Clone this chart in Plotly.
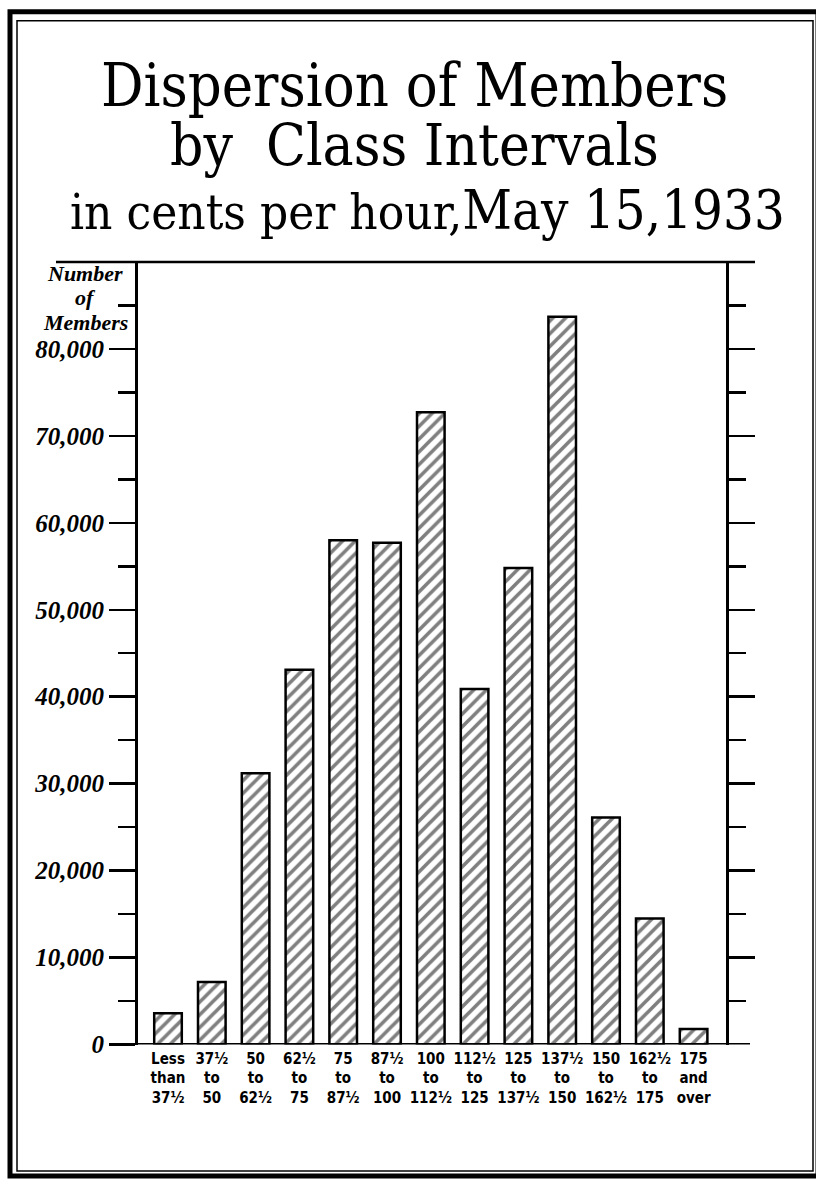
import plotly.graph_objects as go

# ---- data ----
categories = [
    "Less<br>than<br>37½", "37½<br>to<br>50", "50<br>to<br>62½", "62½<br>to<br>75",
    "75<br>to<br>87½", "87½<br>to<br>100", "100<br>to<br>112½", "112½<br>to<br>125",
    "125<br>to<br>137½", "137½<br>to<br>150", "150<br>to<br>162½", "162½<br>to<br>175",
    "175<br>and<br>over",
]
members = [3600, 7200, 31200, 43100, 58000, 57700, 72700, 40900, 54800, 83700, 26100, 14500, 1800]
major_ticks = [0, 10000, 20000, 30000, 40000, 50000, 60000, 70000, 80000]
major_labels = ["0", "10,000", "20,000", "30,000", "40,000", "50,000", "60,000", "70,000", "80,000"]
minor_ticks = [5000, 15000, 25000, 35000, 45000, 55000, 65000, 75000, 85000]

W, H = 816, 1193
def px(x):
    return x / W
def py(y):
    return 1 - y / H

xs = list(range(len(categories)))

fig = go.Figure()
fig.add_trace(go.Bar(
    x=xs, y=members, width=0.63,
    marker=dict(color="white", line=dict(color="black", width=2.5),
                pattern=dict(shape="/", fgcolor="black", bgcolor="white", size=9, solidity=0.4)),
    showlegend=False, hoverinfo="skip",
))
fig.add_trace(go.Scatter(x=[0], y=[0], yaxis="y2", mode="markers",
                         marker=dict(opacity=0), showlegend=False, hoverinfo="skip"))

serif_bi = dict(family="Liberation Serif, Times New Roman, serif", size=25, color="black",
                weight="bold", style="italic")

fig.update_layout(
    width=W, height=H,
    margin=dict(l=0, r=0, t=0, b=0),
    paper_bgcolor="white", plot_bgcolor="white",
    xaxis=dict(domain=[px(138), px(726)], range=[-0.685, 12.74],
               tickmode="array", tickvals=xs, ticktext=categories, tickangle=0,
               ticklabelstandoff=3,
               showline=False, showgrid=False, zeroline=False, ticks="",
               tickfont=dict(family="DejaVu Sans Condensed, Liberation Sans Narrow, sans-serif",
                             size=15, color="black", weight="bold")),
    yaxis=dict(domain=[py(1057), py(265)], range=[0, 90000],
               tickmode="array", tickvals=major_ticks, ticktext=major_labels,
               ticks="outside", ticklen=26, tickwidth=2.5, tickcolor="black",
               showline=True, linewidth=3, linecolor="black",
               showgrid=False, zeroline=False, tickfont=serif_bi,
               minor=dict(tickmode="array", tickvals=minor_ticks, ticks="outside",
                          ticklen=17, tickwidth=2.5, tickcolor="black", showgrid=False)),
    yaxis2=dict(overlaying="y", side="right", anchor="x", range=[0, 90000],
                tickmode="array", tickvals=major_ticks[1:], showticklabels=False,
                ticks="outside", ticklen=26, tickwidth=2.5, tickcolor="black",
                showline=True, linewidth=3, linecolor="black",
                showgrid=False, zeroline=False,
                minor=dict(tickmode="array", tickvals=minor_ticks, ticks="outside",
                           ticklen=17, tickwidth=2.5, tickcolor="black", showgrid=False)),
)

shapes = [
    # top line of the chart frame
    dict(type="line", xref="paper", yref="paper", x0=px(56), x1=px(755), y0=py(265), y1=py(265),
         line=dict(color="black", width=2.5)),
    # base line
    dict(type="line", xref="paper", yref="y", x0=px(110), x1=px(750), y0=0, y1=0,
         line=dict(color="black", width=3)),
    # outer double border
    dict(type="rect", xref="paper", yref="paper", x0=px(10), x1=px(818), y0=py(12), y1=py(1190),
         line=dict(color="black", width=5)),
    dict(type="rect", xref="paper", yref="paper", x0=px(17), x1=px(813), y0=py(21), y1=py(1185),
         line=dict(color="black", width=1.5)),
]
fig.update_layout(shapes=shapes)

title_font = "DejaVu Serif Condensed, DejaVu Serif, serif"
def ann(text, x, y, size, family=title_font, **kw):
    return dict(text=text, x=px(x), y=py(y), xref="paper", yref="paper",
                xanchor="center", yanchor="middle", showarrow=False,
                font=dict(family=family, size=size, color="black", **kw))

annotations = [
    ann("Dispersion of Members", 414, 87, 59),
    ann("by  Class Intervals", 414, 147, 58),
    ann("in cents per hour,<span style='font-size:54px'>May 15,1933</span>", 427, 213, 49),
    ann("Number", 85, 277, 22, family="Liberation Serif, serif", weight="bold", style="italic"),
    ann("of", 85, 301, 22, family="Liberation Serif, serif", weight="bold", style="italic"),
    ann("Members", 85, 326, 22, family="Liberation Serif, serif", weight="bold", style="italic"),
]
fig.update_layout(annotations=annotations)

fig.write_html(
    "out.html",
    config={"displayModeBar": False, "staticPlot": True},
    post_script="document.body.style.margin='0';document.body.style.overflow='hidden';",
)
